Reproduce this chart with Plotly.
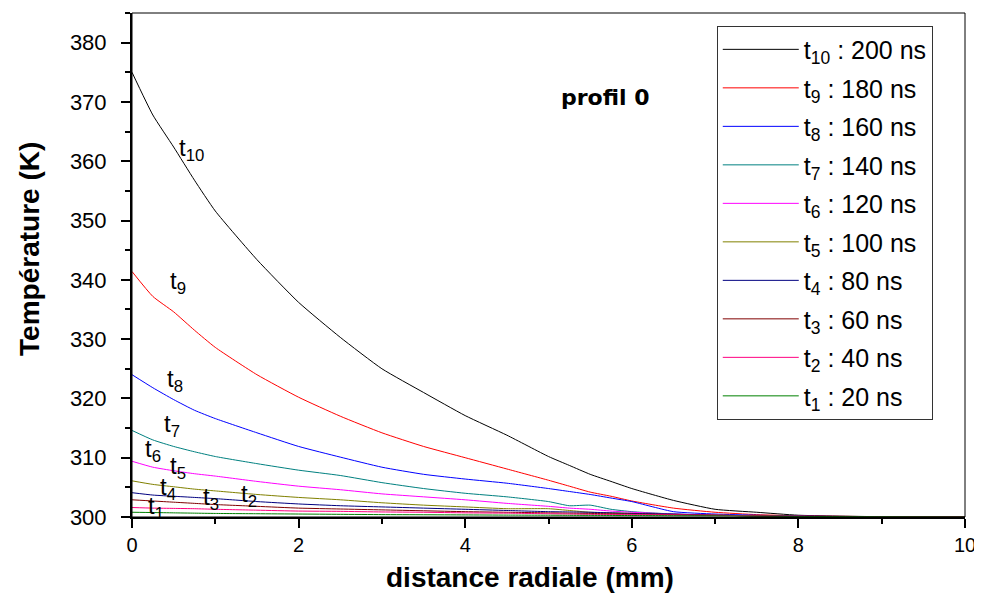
import plotly.graph_objects as go

# radial distance (mm)
x_mm = [0, 0.25, 0.5, 0.75, 1, 1.5, 2, 2.5, 3, 3.5, 4, 4.5, 5, 5.25, 5.5, 5.75, 6, 6.5, 7, 7.5, 8, 9, 10]

# temperature profiles (K)
t10 = [375.0, 367.8, 362.4, 356.8, 351.6, 343.4, 336.2, 330.3, 325.0, 321.0, 317.1, 313.8, 310.2, 308.7, 307.2, 306.0, 304.8, 302.8, 301.3, 300.8, 300.3, 300.05, 300.0]
t9 = [341.4, 337.2, 334.6, 331.5, 328.6, 324.0, 320.2, 317.0, 314.2, 311.9, 310.0, 308.1, 306.2, 305.2, 304.2, 303.5, 302.7, 301.5, 300.8, 300.4, 300.2, 300.05, 300.0]
t8 = [324.0, 321.8, 319.8, 318.0, 316.6, 314.2, 311.9, 310.1, 308.4, 307.2, 306.4, 305.7, 304.8, 304.3, 303.8, 303.2, 302.6, 300.9, 300.5, 300.3, 300.15, 300.05, 300.0]
t7 = [314.6, 313.0, 311.9, 311.0, 310.2, 309.0, 307.9, 307.0, 305.8, 304.8, 304.0, 303.4, 302.6, 301.9, 302.0, 301.3, 300.9, 300.5, 300.3, 300.2, 300.1, 300.05, 300.0]
t6 = [309.4, 308.4, 307.8, 307.3, 306.9, 306.0, 305.2, 304.6, 303.9, 303.4, 302.9, 302.3, 301.8, 301.5, 301.3, 301.0, 300.8, 300.5, 300.3, 300.2, 300.1, 300.05, 300.0]
t5 = [306.1, 305.5, 305.1, 304.7, 304.4, 303.8, 303.3, 302.9, 302.4, 302.0, 301.7, 301.4, 301.4, 301.1, 300.8, 300.7, 300.6, 300.45, 300.3, 300.2, 300.1, 300.05, 300.0]
t4 = [304.1, 303.7, 303.5, 303.3, 303.1, 302.6, 302.2, 301.9, 301.7, 301.5, 301.3, 301.1, 300.9, 300.85, 300.8, 300.7, 300.6, 300.5, 300.3, 300.2, 300.1, 300.05, 300.0]
t3 = [302.9, 302.7, 302.5, 302.3, 302.1, 301.8, 301.5, 301.35, 301.2, 301.05, 300.9, 300.8, 300.7, 300.65, 300.6, 300.55, 300.5, 300.4, 300.3, 300.2, 300.1, 300.05, 300.0]
t2 = [301.6, 301.5, 301.45, 301.4, 301.3, 301.15, 301.0, 300.95, 300.85, 300.8, 300.7, 300.65, 300.55, 300.5, 300.45, 300.42, 300.4, 300.35, 300.3, 300.2, 300.1, 300.05, 300.0]
t1 = [300.8, 300.75, 300.7, 300.65, 300.6, 300.55, 300.5, 300.45, 300.4, 300.38, 300.35, 300.32, 300.3, 300.28, 300.27, 300.26, 300.25, 300.22, 300.2, 300.15, 300.1, 300.05, 300.0]

series = [t10, t9, t8, t7, t6, t5, t4, t3, t2, t1]
names = ["t<sub>10</sub> : 200 ns", "t<sub>9</sub> : 180 ns", "t<sub>8</sub> : 160 ns",
         "t<sub>7</sub> : 140 ns", "t<sub>6</sub> : 120 ns", "t<sub>5</sub> : 100 ns",
         "t<sub>4</sub> : 80 ns", "t<sub>3</sub> : 60 ns", "t<sub>2</sub> : 40 ns",
         "t<sub>1</sub> : 20 ns"]
colors = ["#000000", "#FF0000", "#0000FF", "#008080", "#FF00FF",
          "#808000", "#000080", "#800000", "#FF0080", "#008000"]

# curve labels: text, x (mm), y (K)
label_text = ["t<sub>10</sub>", "t<sub>9</sub>", "t<sub>8</sub>", "t<sub>7</sub>", "t<sub>6</sub>",
              "t<sub>5</sub>", "t<sub>4</sub>", "t<sub>3</sub>", "t<sub>2</sub>", "t<sub>1</sub>"]
label_x = [0.54, 0.43, 0.40, 0.36, 0.13, 0.43, 0.31, 0.83, 1.29, 0.17]
label_y = [362.0, 339.5, 323.0, 315.5, 311.3, 308.3, 304.8, 303.2, 303.6, 301.6]

x_title = "distance radiale (mm)"
y_title = "Température (K)"

FONT = "Liberation Sans, Arial, sans-serif"

fig = go.Figure()
for i, (ys, nm, c) in enumerate(zip(series, names, colors)):
    fig.add_trace(go.Scatter(x=x_mm, y=ys, mode="lines", name=nm,
                             line=dict(color=c, width=1, shape="spline", smoothing=0.5),
                             legendgroup=str(i)))

for t, lx, ly in zip(label_text, label_x, label_y):
    fig.add_annotation(x=lx, y=ly, text=t, showarrow=False, xanchor="left", yanchor="middle",
                       font=dict(size=24, color="black", family=FONT))

fig.add_annotation(x=5.68, y=370.8, text="profil 0", showarrow=False,
                   font=dict(size=22, color="black", family="DejaVu Sans", weight="bold"))

# axis titles
fig.add_annotation(xref="paper", yref="paper", x=0.478, y=-0.121, text=x_title,
                   showarrow=False, xanchor="center", yanchor="middle",
                   font=dict(size=28, color="black", family=FONT, weight="bold"))
fig.add_annotation(xref="paper", yref="paper", x=-0.1224, y=0.532, text=y_title,
                   showarrow=False, textangle=-90, xanchor="center", yanchor="middle",
                   font=dict(size=28, color="black", family=FONT, weight="bold"))

fig.add_shape(type="rect", xref="paper", yref="paper", x0=0, x1=1, y0=0, y1=1,
              line=dict(color="black", width=1), layer="above")

fig.update_xaxes(range=[0, 10], tick0=0, dtick=2, ticks="outside", ticklen=9, tickwidth=2,
                 tickcolor="black", showline=True, linewidth=2, linecolor="black",
                 showgrid=False, zeroline=False,
                 minor=dict(dtick=1, ticks="outside", ticklen=5, tickwidth=2, tickcolor="black"),
                 tickfont=dict(size=20, color="black", family=FONT))
fig.update_yaxes(range=[300, 385], tick0=300, dtick=10, ticks="outside", ticklen=9, tickwidth=2,
                 tickcolor="black", showline=True, linewidth=2, linecolor="black",
                 showgrid=False, zeroline=False, ticklabelstandoff=10,
                 minor=dict(dtick=5, ticks="outside", ticklen=5, tickwidth=2, tickcolor="black"),
                 tickfont=dict(size=22, color="black", family=FONT))

fig.update_layout(
    width=974, height=587,
    margin=dict(l=124, r=17, t=5, b=78),
    plot_bgcolor="white", paper_bgcolor="white",
    font=dict(family=FONT, color="black"),
    showlegend=True,
    legend=dict(x=0.702, y=0.975, xanchor="left", yanchor="top",
                bgcolor="white", bordercolor="#333333", borderwidth=1,
                font=dict(size=25, color="black", family=FONT),
                tracegroupgap=3, itemwidth=76),
)

fig.write_html("out.html")
